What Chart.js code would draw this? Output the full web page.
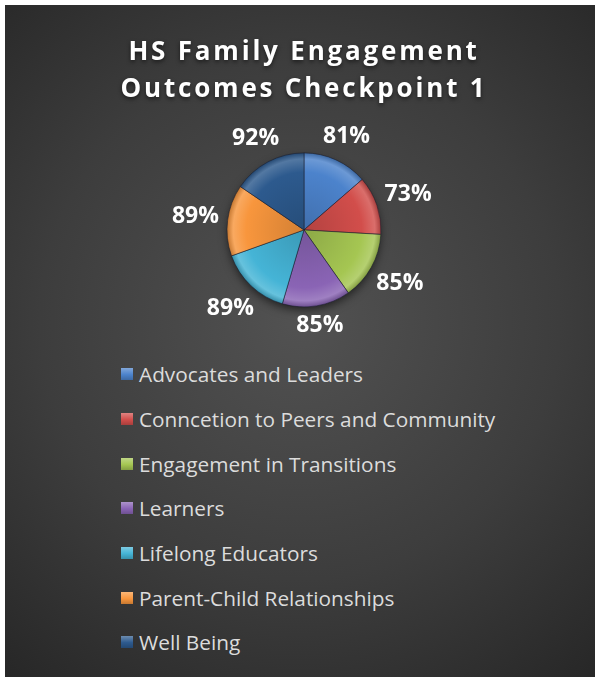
<!DOCTYPE html>
<html>
<head>
<meta charset="utf-8">
<script src="https://cdn.jsdelivr.net/npm/chart.js"></script>
<style>
  html, body { margin: 0; padding: 0; background: #fff; }
  #frame {
    position: absolute; left: 5px; top: 5px; width: 590px; height: 672px; overflow: hidden;
    background: radial-gradient(ellipse 80% 70% at 50% 47%, #525252 0%, #3d3d3d 55%, #262626 100%);
  }
  #pieChart { position: absolute; left: 0; top: 0; }
  #legend {
    position: absolute; left: 116px; top: 347px; margin: 0; padding: 0; list-style: none;
    font-family: 'Open Sans', sans-serif; font-size: 20.8px; color: #dcdcdc;
  }
  #legend li { height: 44.7px; display: flex; align-items: center; white-space: nowrap; }
  #legend .swatch { width: 12px; height: 12px; margin-right: 6px; flex: none; }
</style>
</head>
<body>
<div id="frame">
  <canvas id="pieChart" width="590" height="345"></canvas>
  <ul id="legend"></ul>
</div>
<script>
const titleLines = ['HS Family Engagement', 'Outcomes Checkpoint 1'];
const labels = [
  'Advocates and Leaders',
  'Conncetion to Peers and Community',
  'Engagement in Transitions',
  'Learners',
  'Lifelong Educators',
  'Parent-Child Relationships',
  'Well Being'
];
const values = [81, 73, 85, 85, 89, 89, 92];
const sliceColors = ['#4c83cc', '#d24e4b', '#a5c652', '#8a64b5', '#45b4d6', '#f8963d', '#2d5a8e'];

// lighten (amt > 0) or darken (amt < 0) a hex colour
function shade(hex, amt) {
  const n = parseInt(hex.slice(1), 16);
  const ch = [(n >> 16) & 255, (n >> 8) & 255, n & 255].map(c =>
    Math.round(amt >= 0 ? c + (255 - c) * amt : c * (1 + amt)));
  return `rgb(${ch[0]},${ch[1]},${ch[2]})`;
}

const pieRadius = 77;

// bevelled fill: a bit darker in the middle, highlight near the rim
function sliceFill(ctx) {
  const base = sliceColors[ctx.dataIndex];
  const area = ctx.chart.chartArea;
  if (!area) return base;
  const cx = (area.left + area.right) / 2;
  const cy = (area.top + area.bottom) / 2;
  const g = ctx.chart.ctx.createRadialGradient(cx, cy, 0, cx, cy, pieRadius);
  g.addColorStop(0, shade(base, -0.15));
  g.addColorStop(0.75, base);
  g.addColorStop(0.92, shade(base, 0.18));
  g.addColorStop(1, shade(base, -0.2));
  return g;
}

// title gets letter spacing and a soft shadow; reset before the pie is drawn
const titleStyle = {
  id: 'titleStyle',
  beforeDraw(chart) {
    const c = chart.ctx;
    c.save();
    c.letterSpacing = '2.8px';
    c.shadowColor = 'rgba(0,0,0,0.55)';
    c.shadowBlur = 4;
    c.shadowOffsetY = 2;
  },
  beforeDatasetsDraw(chart) {
    const c = chart.ctx;
    c.restore();
    // drop shadow under the pie
    const arc = chart.getDatasetMeta(0).data[0];
    if (!arc) return;
    c.save();
    c.shadowColor = 'rgba(0,0,0,0.6)';
    c.shadowBlur = 10;
    c.shadowOffsetY = 4;
    c.fillStyle = '#333';
    c.beginPath();
    c.arc(arc.x, arc.y, arc.outerRadius - 1, 0, Math.PI * 2);
    c.fill();
    c.restore();
  }
};

// percentage labels just outside each slice
const valueLabels = {
  id: 'valueLabels',
  afterDatasetsDraw(chart) {
    const c = chart.ctx;
    c.save();
    c.font = 'bold 23px "Open Sans"';
    c.fillStyle = '#ffffff';
    c.textAlign = 'center';
    c.textBaseline = 'middle';
    chart.getDatasetMeta(0).data.forEach((arc, i) => {
      const text = values[i] + '%';
      const mid = (arc.startAngle + arc.endAngle) / 2;
      const w = c.measureText(text).width;
      const h = 17;
      const cos = Math.cos(mid), sin = Math.sin(mid);
      const d = arc.outerRadius + 8 + Math.abs(cos) * w / 2 + Math.abs(sin) * h / 2;
      c.fillText(text, arc.x + cos * d, arc.y + sin * d);
    });
    c.restore();
  }
};

const chart = new Chart(document.getElementById('pieChart'), {
  type: 'pie',
  data: {
    labels,
    datasets: [{
      data: values,
      backgroundColor: sliceFill,
      borderColor: 'rgba(25,30,45,0.55)',
      borderWidth: 1
    }]
  },
  options: {
    responsive: false,
    animation: false,
    radius: pieRadius,
    layout: { padding: { left: 8, right: 0, top: 0, bottom: 5 } },
    plugins: {
      title: {
        display: true,
        text: titleLines,
        color: '#ffffff',
        font: { family: 'Open Sans', size: 26, weight: 'bold', lineHeight: 1.42 },
        padding: { top: 29, bottom: 7 }
      },
      legend: { display: false },
      tooltip: { enabled: false }
    }
  },
  plugins: [titleStyle, valueLabels]
});

// vertical legend under the pie, one entry per line
const legendEl = document.getElementById('legend');
labels.forEach((name, i) => {
  const li = document.createElement('li');
  const sw = document.createElement('span');
  sw.className = 'swatch';
  sw.style.background = `linear-gradient(to bottom, ${shade(sliceColors[i], 0.3)}, ${sliceColors[i]} 55%, ${shade(sliceColors[i], -0.2)})`;
  li.appendChild(sw);
  li.appendChild(document.createTextNode(name));
  legendEl.appendChild(li);
});
</script>
</body>
</html>
